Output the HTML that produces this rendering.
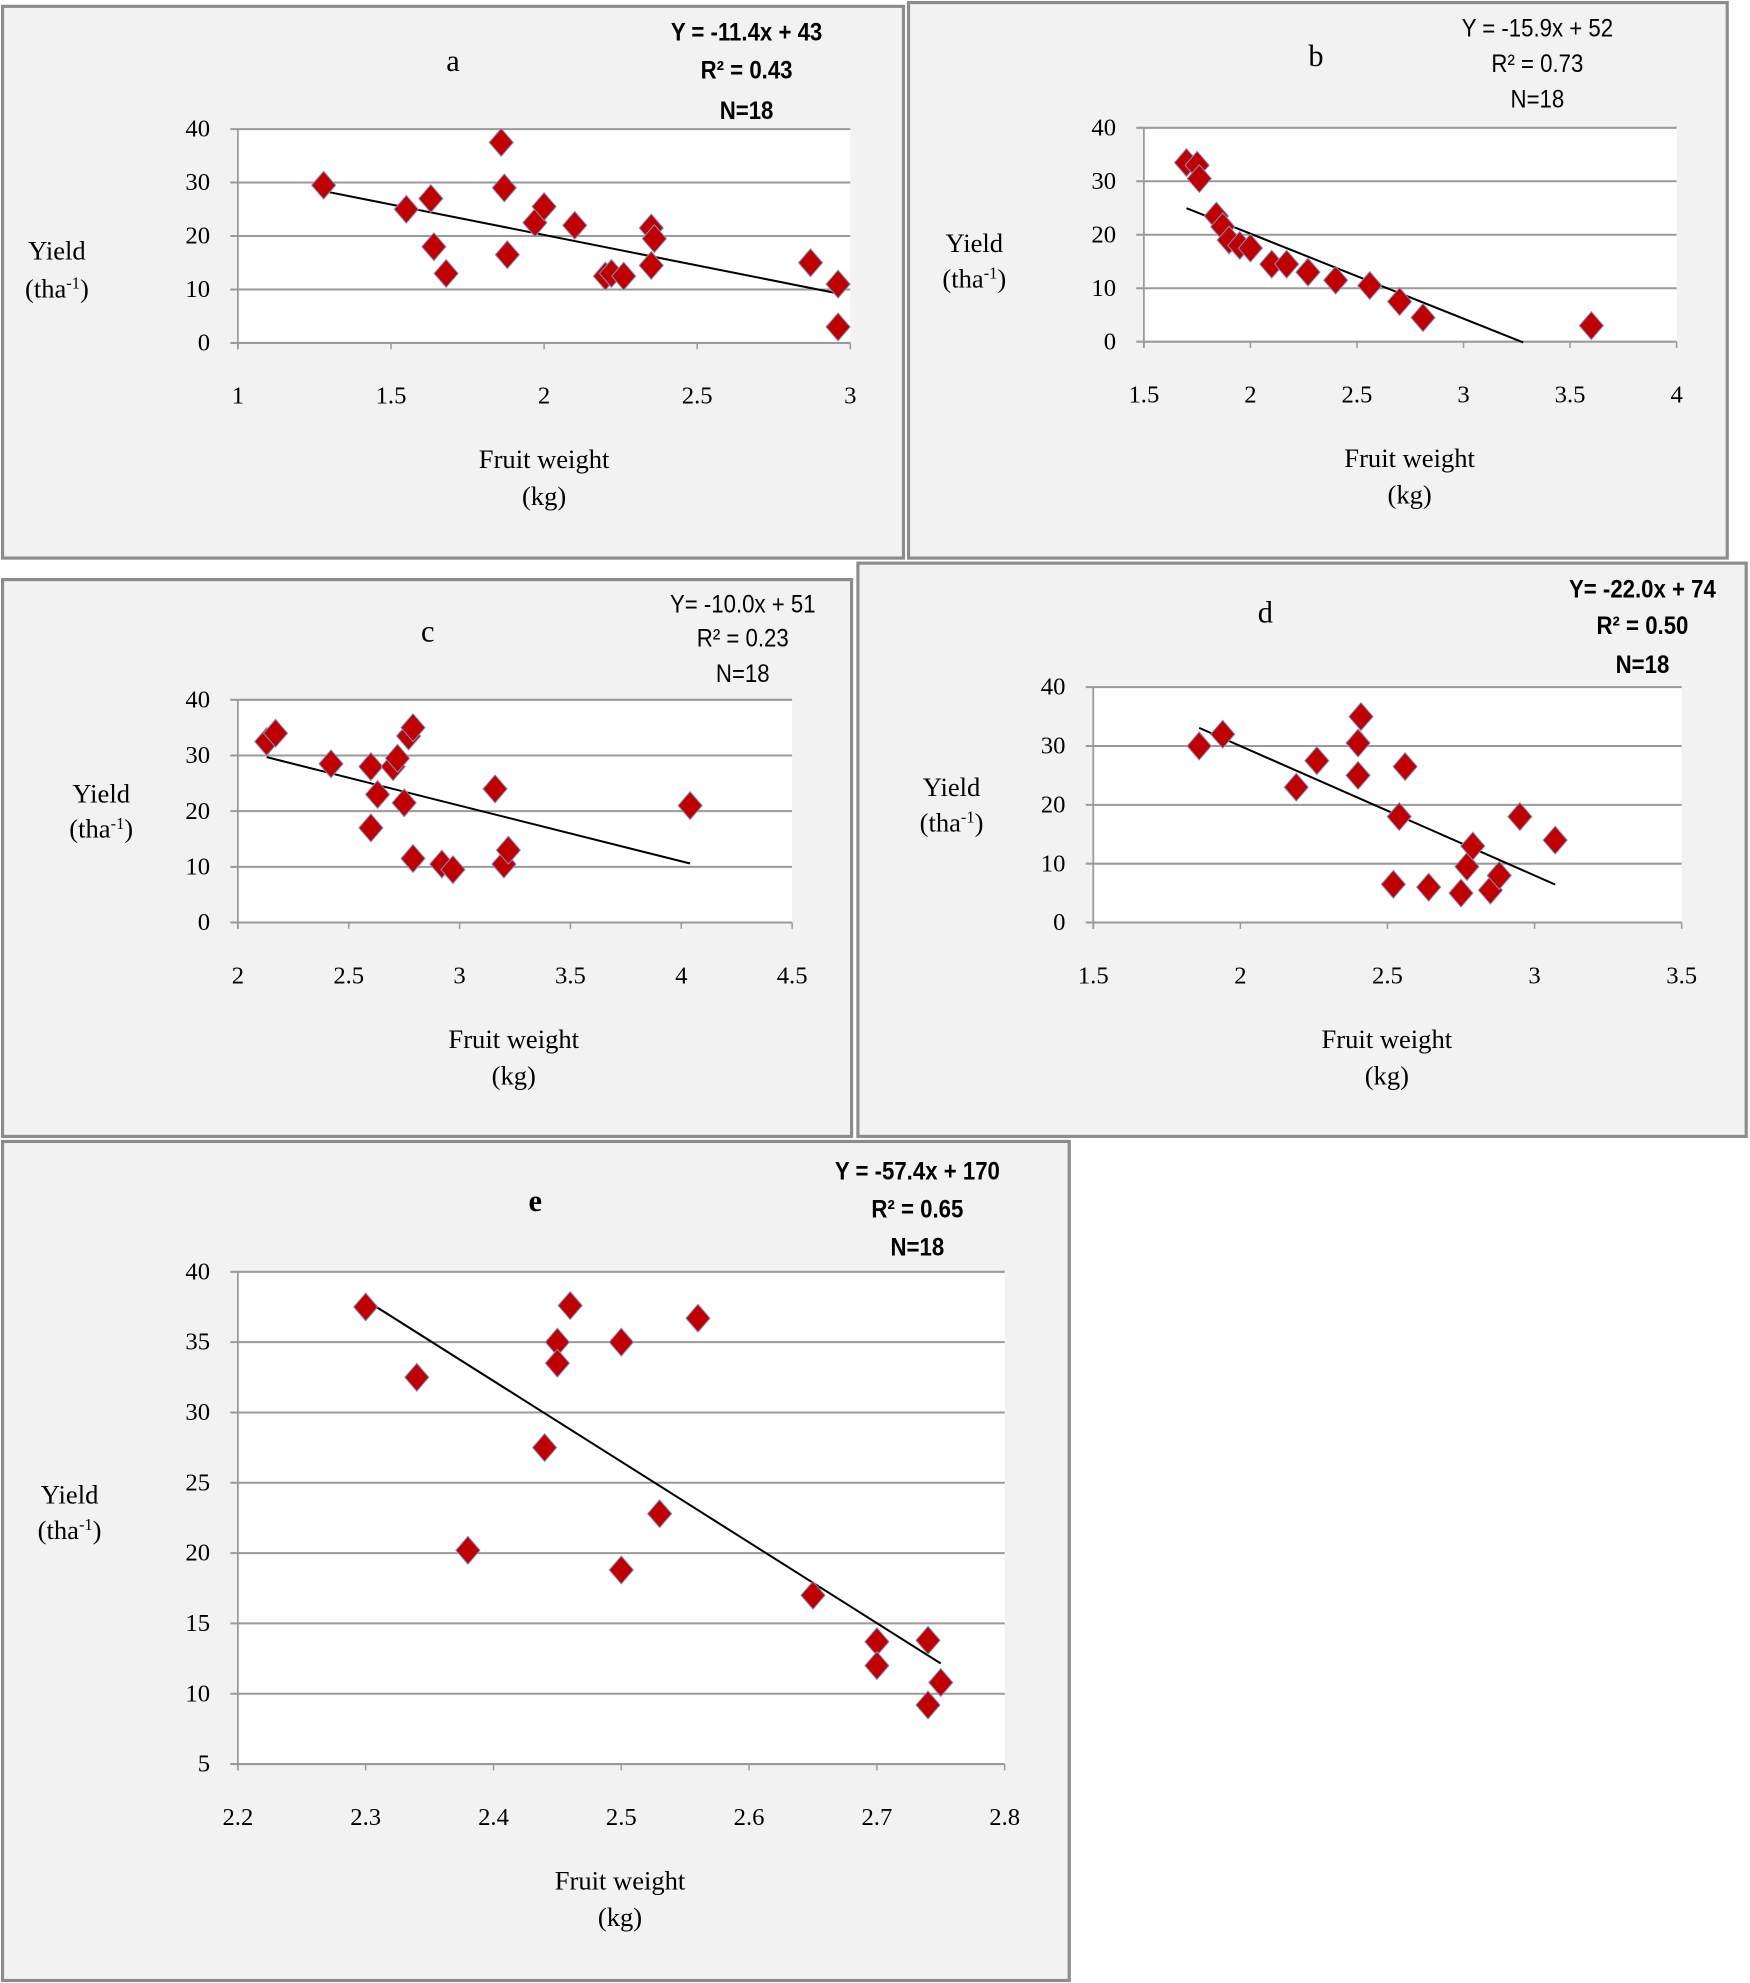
<!DOCTYPE html>
<html><head><meta charset="utf-8"><style>
html,body{margin:0;padding:0;background:#fff;}
svg{display:block;}
text{font-family:"Liberation Serif",serif;fill:#000;}
.eq{font-family:"Liberation Sans",sans-serif;}
</style></head><body>
<svg id="fig" width="1750" height="1983" viewBox="0 0 1383 1567" preserveAspectRatio="none" xmlns="http://www.w3.org/2000/svg"></svg>
<script>
// ---- data arrays ----
const aX=[1.28,1.55,1.63,1.64,1.68,1.86,1.87,1.88,1.97,2.0,2.1,2.2,2.22,2.26,2.35,2.36,2.35,2.87,2.96,2.96];
const aY=[29.5,25,27,18,13,37.5,29,16.5,22.5,25.5,22,12.5,13,12.5,21.5,19.5,14.5,15,11,3];
const bX=[1.7,1.75,1.76,1.84,1.87,1.9,1.95,2.0,2.1,2.17,2.27,2.4,2.56,2.7,2.81,3.6];
const bY=[33.5,33,30.5,23.5,21.5,19,18,17.5,14.5,14.5,13,11.5,10.5,7.5,4.5,3];
const cX=[2.13,2.17,2.42,2.6,2.6,2.63,2.7,2.72,2.75,2.77,2.79,2.79,2.92,2.97,3.16,3.2,3.22,4.04];
const cY=[32.5,34,28.5,17,28,23,28,29.5,21.5,33.5,35,11.5,10.5,9.5,24,10.5,13,21];
const dX=[1.86,1.94,2.19,2.26,2.4,2.4,2.41,2.52,2.54,2.56,2.64,2.75,2.77,2.79,2.85,2.88,2.95,3.07];
const dY=[30,32,23,27.5,25,30.5,35,6.5,18,26.5,6,5,9.5,13,5.5,8,18,14];
const eX=[2.30,2.34,2.38,2.44,2.45,2.45,2.46,2.5,2.5,2.53,2.56,2.65,2.70,2.70,2.74,2.74,2.75];
const eY=[37.5,32.5,20.2,27.5,35,33.5,37.6,35,18.8,22.8,36.7,17,13.7,12,13.8,9.2,10.8];
const aTrend=[-11.4,43,1.28,2.96];
const bTrend=[-15.9,52,1.7,3.28];
const cTrend=[-10.0,51,2.13,4.04];
const dTrend=[-22.0,74,1.86,3.07];
const eTrend=[-57.4,170,2.3,2.75];
const aXTicks=[1,1.5,2,2.5,3], aYTicks=[0,10,20,30,40];
const bXTicks=[1.5,2,2.5,3,3.5,4], bYTicks=[0,10,20,30,40];
const cXTicks=[2,2.5,3,3.5,4,4.5], cYTicks=[0,10,20,30,40];
const dXTicks=[1.5,2,2.5,3,3.5], dYTicks=[0,10,20,30,40];
const eXTicks=[2.2,2.3,2.4,2.5,2.6,2.7,2.8], eYTicks=[5,10,15,20,25,30,35,40];
const aEq=["Y = -11.4x + 43","R² = 0.43","N=18"];
const bEq=["Y = -15.9x + 52","R² = 0.73","N=18"];
const cEq=["Y= -10.0x + 51","R² = 0.23","N=18"];
const dEq=["Y= -22.0x + 74","R² = 0.50","N=18"];
const eEq=["Y = -57.4x + 170","R² = 0.65","N=18"];

const NS="http://www.w3.org/2000/svg";
const svg=document.getElementById('fig');
function mk(tag,attrs,parent,txt){const e=document.createElementNS(NS,tag);for(const k in attrs)e.setAttribute(k,attrs[k]);if(txt!==undefined)e.textContent=txt;parent.appendChild(e);return e;}

function panel(o){
  const g=mk('g',{},svg);
  
  
  const bx=mk('rect',{x:o.box[0],y:o.box[1],width:o.box[2]-o.box[0],height:o.box[3]-o.box[1],fill:'#f2f2f2',stroke:'#8c8c8c','stroke-width':2.5},g);
  
  
  const [L,T,R,B]=o.plot;
  const xs=v=>L+(v-o.xr[0])/(o.xr[1]-o.xr[0])*(R-L);
  const ys=v=>B-(v-o.yr[0])/(o.yr[1]-o.yr[0])*(B-T);
  const pa=mk('rect',{x:L,y:T,width:R-L,height:B-T,fill:'#fff'},g);
  
  
  o.yt.forEach(v=>{
    const ln=mk('line',{x1:L-6,x2:R,y1:ys(v),y2:ys(v),stroke:'#9a9a9a','stroke-width':1.6},g);
    
    
    const t=mk('text',{x:L-22,y:ys(v)+6,'text-anchor':'end','font-size':19.5},g,String(v));
    
    
  });
  mk('line',{x1:L,x2:L,y1:T,y2:B+5,stroke:'#9a9a9a','stroke-width':1.4},g);
  o.xt.forEach(v=>{
    mk('line',{x1:xs(v),x2:xs(v),y1:B,y2:B+5,stroke:'#9a9a9a','stroke-width':1.2},g);
    const t=mk('text',{x:xs(v),y:B+48,'text-anchor':'middle','font-size':19.5},g,String(v));
    
    
  });
  const [m,c,x0,x1]=o.trend;
  const tl=mk('line',{x1:xs(x0),y1:ys(m*x0+c),x2:xs(x1),y2:ys(m*x1+c),stroke:'#000','stroke-width':1.6},g);
  
  
  o.x.forEach((xv,i)=>{
    const px=xs(xv),py=ys(o.y[i]);
    const d=mk('path',{d:`M${px},${py-11} L${px+9.5},${py} L${px},${py+11} L${px-9.5},${py} Z`,fill:'#c00000',stroke:'#7f8fc0','stroke-width':0.8},g);
    
    
  });
  const lt=mk('text',{x:o.letter[0],y:o.letter[1],'text-anchor':'middle','font-size':24,'font-weight':o.letterBold?'bold':'normal'},g,o.id);
  
  
  o.eq.forEach((s,i)=>{
    const t=mk('text',{class:'eq',x:o.eqPos[0],y:o.eqPos[1][i],'text-anchor':'middle','font-size':19.5,'font-weight':o.eqBold?'bold':'normal',transform:`translate(${o.eqPos[0]} 0) scale(0.9 1) translate(${-o.eqPos[0]} 0)`},g,s);
    
    
  });
  const xm=(L+R)/2;
  const xt1=mk('text',{x:o.xTitleX||xm,y:B+99,'text-anchor':'middle','font-size':21},g,'Fruit weight');
  
  
  mk('text',{x:o.xTitleX||xm,y:B+128,'text-anchor':'middle','font-size':21},g,'(kg)');
  const yt1=mk('text',{x:o.ytitle[0],y:o.ytitle[1],'text-anchor':'middle','font-size':21},g,'Yield');
  
  
  const yt2=mk('text',{x:o.ytitle[0],y:o.ytitle[2],'text-anchor':'middle','font-size':21},g);
  
  
  yt2.appendChild(document.createTextNode('(tha'));
  const sp=mk('tspan',{dy:-7,'font-size':13},yt2,'-1');
  mk('tspan',{dy:7},yt2,')');
}
panel({id:'a',box:[2,5,714,441],plot:[188,102,672,271],xr:[1,3],yr:[0,40],x:aX,y:aY,xt:aXTicks,yt:aYTicks,trend:aTrend,letter:[358,56],eq:aEq,eqPos:[590,[32,62,94]],eqBold:true,ytitle:[45,205,235],xTitleX:430});
panel({id:'b',box:[718,2,1365,441],plot:[904,101,1325,270],xr:[1.5,4],yr:[0,40],x:bX,y:bY,xt:bXTicks,yt:bYTicks,trend:bTrend,letter:[1040,52],eq:bEq,eqPos:[1215,[29,57,85]],ytitle:[770,199,227],xTitleX:1114});
panel({id:'c',box:[2,458,673,898],plot:[188,553,626,729],xr:[2,4.5],yr:[0,40],x:cX,y:cY,xt:cXTicks,yt:cYTicks,trend:cTrend,letter:[338,507],eq:cEq,eqPos:[587,[484,511,539]],ytitle:[80,634,662],xTitleX:406});
panel({id:'d',box:[678,445,1380,898],plot:[864,543,1329,729],xr:[1.5,3.5],yr:[0,40],x:dX,y:dY,xt:dXTicks,yt:dYTicks,trend:dTrend,letter:[1000,492],eq:dEq,eqPos:[1298,[472,501,532]],eqBold:true,ytitle:[752,629,657],xTitleX:1096});
panel({id:'e',box:[2,902,845,1565],plot:[188,1005,794,1394],xr:[2.2,2.8],yr:[5,40],x:eX,y:eY,xt:eXTicks,yt:eYTicks,trend:eTrend,letter:[423,957],letterBold:true,eq:eEq,eqPos:[725,[932,962,992]],eqBold:true,ytitle:[55,1188,1216],xTitleX:490});
</script>
</body></html>
